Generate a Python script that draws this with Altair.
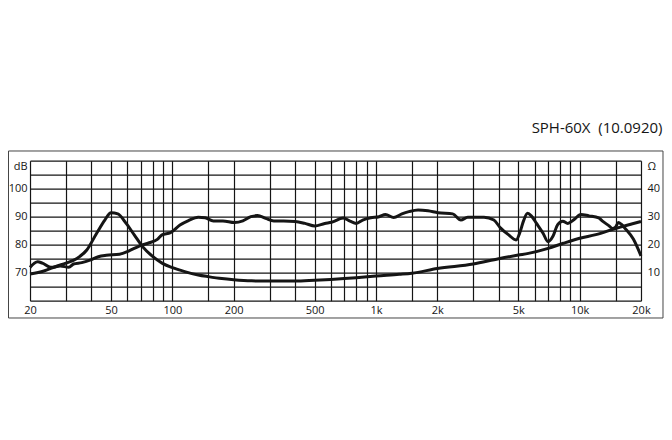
import altair as alt
import pandas as pd

# ---- data ----
spl_freq = [20, 21.8, 23, 25.3, 28.2, 31, 32.7, 35.9, 39.4, 43.3, 47.4, 55, 61.6, 68.8, 77,
            84.4, 89, 97.9, 109, 120, 134, 145, 159, 177, 202, 222, 243, 262, 287, 315,
            352, 401, 448, 501, 560, 604, 690, 745, 800, 860, 942, 1035, 1113, 1221, 1340,
            1450, 1610, 1800, 2016, 2380, 2610, 2820, 3390, 3790, 4080, 4480, 4870, 5100,
            5300, 5550, 5800, 6140, 6610, 6990, 7390, 7800, 8260, 8740, 9400, 10130, 11100,
            12400, 12900, 13900, 14500, 15000, 15500, 16000, 16720, 18340, 20000]
spl_db = [71.9, 73.9, 73.4, 71.9, 72.4, 71.9, 73.1, 73.6, 74.5, 75.7, 76.2, 76.6, 77.9, 79.5, 80.7,
          81.9, 83.5, 84.3, 87.0, 88.6, 89.8, 89.6, 88.5, 88.5, 87.9, 88.5, 90.0, 90.4, 89.4, 88.5,
          88.5, 88.3, 87.6, 86.7, 87.6, 88.0, 89.5, 88.4, 87.6, 88.8, 89.6, 90.0, 90.8, 89.7, 91.0,
          91.8, 92.4, 92.1, 91.4, 91.0, 88.8, 89.8, 89.8, 88.8, 86.0, 83.5, 81.7, 84.6,
          88.5, 91.2, 90.2, 87.6, 84.1, 81.1, 83.0, 87.2, 88.4, 87.6, 89.0, 90.8, 90.3,
          89.6, 88.5, 86.8, 85.8, 86.3, 87.9, 87.3, 85.8, 82.0, 76.0]

imp_freq = [20, 23.4, 27.2, 30, 34, 38, 42.5, 46.6, 50, 54, 59.3, 65, 71.4, 80, 89, 100,
            115, 134, 150, 175, 200, 245, 300, 400, 500, 600, 800, 1000, 1300, 1500, 2000,
            3000, 4000, 5000, 5600, 7000, 8300, 10000, 12000, 15000, 20000]
imp_ohm = [9.5, 10.6, 12.4, 13.4, 15.1, 18.1, 24.1, 28.8, 31.4, 31.0, 27.6, 23.5, 19.3, 15.8, 13.4, 11.8,
           10.4, 9.2, 8.6, 7.9, 7.5, 7.1, 7.0, 7.0, 7.3, 7.6, 8.2, 8.8, 9.4, 9.8, 11.5,
           13.1, 15.0, 16.3, 16.9, 18.7, 20.5, 22.3, 23.6, 25.8, 28.3]

grid_freqs = [20, 30, 40, 50, 60, 70, 80, 90, 100, 150, 200, 300, 400, 500, 600, 700, 800, 900,
              1000, 1500, 2000, 3000, 4000, 5000, 6000, 7000, 8000, 9000, 10000, 15000, 20000]
freq_labels = {20: "20", 50: "50", 100: "100", 200: "200", 500: "500", 1000: "1k",
               2000: "2k", 5000: "5k", 10000: "10k", 20000: "20k"}
db_ticks = [60, 65, 70, 75, 80, 85, 90, 95, 100, 105, 110]
db_labels = {70: "70", 80: "80", 90: "90", 100: "100", 110: "dB"}
ohm_ticks = [0, 10, 20, 30, 40, 50]
ohm_labels = {10: "10", 20: "20", 30: "30", 40: "40", 50: "\u03a9"}
title_text = "SPH-60X\u00a0\u00a0(10.0920)"


def label_expr(mapping):
    expr = "''"
    for k, v in reversed(list(mapping.items())):
        expr = f"datum.value == {k} ? '{v}' : ({expr})"
    return expr


FONT = "Open Sans"
INK = "#151515"

spl_df = pd.DataFrame({"freq": spl_freq, "db": spl_db})
imp_df = pd.DataFrame({"freq": imp_freq, "ohm": imp_ohm})

x_enc = alt.X(
    "freq:Q",
    scale=alt.Scale(type="log", domain=[20, 20000], nice=False),
    axis=alt.Axis(values=grid_freqs, labelExpr=label_expr(freq_labels), title=None,
                  grid=True, gridColor=INK, gridWidth=1.2, gridOpacity=1,
                  ticks=False, tickSize=0, domain=False, labelPadding=4,
                  labelOverlap=False, labelFont=FONT, labelFontSize=11, labelColor=INK,
                  labelFlush=False),
)

spl = alt.Chart(spl_df).mark_line(
    color=INK, strokeWidth=3, interpolate="monotone"
).encode(
    x=x_enc,
    y=alt.Y("db:Q", scale=alt.Scale(domain=[60, 110], nice=False, zero=False),
            axis=alt.Axis(values=db_ticks, labelExpr=label_expr(db_labels), title=None,
                          grid=True, gridColor=INK, gridWidth=1.2, gridOpacity=1,
                          ticks=False, tickSize=0, domain=False, labelPadding=3,
                          labelFlush=True, labelOverlap=False, labelFont=FONT,
                          labelFontSize=11, labelColor=INK)),
)

imp = alt.Chart(imp_df).mark_line(
    color=INK, strokeWidth=3, interpolate="monotone"
).encode(
    x=x_enc,
    y=alt.Y("ohm:Q", scale=alt.Scale(domain=[0, 50], nice=False, zero=False),
            axis=alt.Axis(orient="right", values=ohm_ticks, labelExpr=label_expr(ohm_labels),
                          title=None, grid=False, ticks=False, tickSize=0, domain=False,
                          labelPadding=6, labelFlush=True, labelOverlap=False,
                          labelFont=FONT, labelFontSize=11, labelColor=INK)),
)

frame = alt.Chart(alt.Data(values=[{}])).mark_rect(
    fill="transparent", stroke="#444", strokeWidth=1
).encode(
    x=alt.value(-21.5), x2=alt.value(633), y=alt.value(-9.7), y2=alt.value(157.3)
)

chart = alt.layer(frame, spl, imp).resolve_scale(y="independent").properties(
    width=611,
    height=140,
    autosize=alt.AutoSizeParams(type="none"),
    padding={"left": 22, "top": 152.7, "right": 23, "bottom": 30},
    title=alt.TitleParams(title_text, anchor="end", font=FONT, fontSize=15,
                          fontWeight="normal", color=INK, offset=14, dx=-1),
).configure_view(stroke=None)

chart.save("out.html", embed_options={"renderer": "svg", "actions": False})
